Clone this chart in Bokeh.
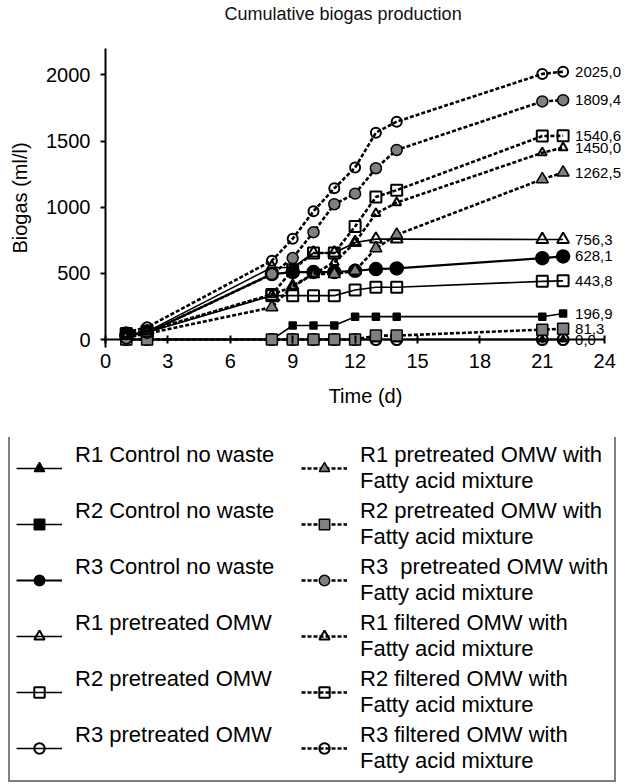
from bokeh.plotting import figure
from bokeh.layouts import column
from bokeh.models import (Range1d, Legend, LegendItem, LabelSet,
                          ColumnDataSource, FixedTicker)
from bokeh.core.properties import value
from bokeh.embed import file_html
from bokeh.resources import INLINE

# ---------------- data ----------------
days = [1, 2, 8, 9, 10, 11, 12, 13, 14, 21, 22]

r1_control = [0, 0, 0, 0, 0, 0, 0, 0, 0, 0, 0]
r2_control = [0, 0, 0, 106, 106, 106, 173, 173, 173, 173, 196.9]
r3_control = [30, 50, 495, 510, 510, 510, 520, 533, 538, 615, 628.1]
r1_pretreated = [30, 60, 545, 545, 654, 654, 734, 759, 759, 756.3, 756.3]
r2_pretreated = [40, 55, 332, 332, 332, 332, 375, 395, 395, 440, 443.8]
r3_pretreated = [0, 0, 0, 0, 0, 0, 0, 0, 0, 0, 0]
r1_pretreated_fa = [20, 45, 244, 407, 495, 495, 520, 689, 792, 1212, 1262.5]
r2_pretreated_fa = [0, 0, 0, 0, 0, 0, 0, 30, 30, 75, 81.3]
r3_pretreated_fa = [10, 50, 495, 616, 812, 1023, 1103, 1295, 1433, 1800, 1809.4]
r1_filtered_fa = [30, 60, 340, 400, 495, 583, 734, 953, 1035, 1412, 1450.0]
r2_filtered_fa = [45, 65, 340, 528, 654, 654, 855, 1078, 1129, 1538, 1540.6]
r3_filtered_fa = [55, 93, 596, 762, 970, 1143, 1300, 1564, 1647, 2008, 2025.0]

labels = [
    "R1 Control no waste",
    "R2 Control no waste",
    "R3 Control no waste",
    "R1 pretreated OMW",
    "R2 pretreated OMW",
    "R3 pretreated OMW",
    "R1 pretreated OMW with\nFatty acid mixture",
    "R2 pretreated OMW with\nFatty acid mixture",
    "R3  pretreated OMW with\nFatty acid mixture",
    "R1 filtered OMW with\nFatty acid mixture",
    "R2 filtered OMW with\nFatty acid mixture",
    "R3 filtered OMW with\nFatty acid mixture",
]
values = [r1_control, r2_control, r3_control, r1_pretreated, r2_pretreated,
          r3_pretreated, r1_pretreated_fa, r2_pretreated_fa, r3_pretreated_fa,
          r1_filtered_fa, r2_filtered_fa, r3_filtered_fa]

x_ticks = [0, 3, 6, 9, 12, 15, 18, 21, 24]
y_ticks = [0, 500, 1000, 1500, 2000]

# ---------------- styles ----------------
GREY = "#808080"
# marker, size, fill, dashed, line width
styles = [
    ("triangle", 8, "black", False, 1.6),
    ("square", 7, "black", False, 1.6),
    ("circle", 13, "black", False, 2.2),
    ("triangle", 12, None, False, 1.6),
    ("square", 11, None, False, 1.6),
    ("circle", 11, None, False, 1.6),
    ("triangle", 12, GREY, True, 2.6),
    ("square", 11, GREY, True, 2.6),
    ("circle", 11, GREY, True, 2.6),
    ("triangle", 9, None, True, 2.6),
    ("square", 11, None, True, 2.6),
    ("circle", 10, None, True, 2.6),
]

FONT = "Liberation Sans"


def draw(fig, src, style):
    marker, size, fill, dashed, lw = style
    ln = fig.line("x", "y", source=src, line_color="black", line_width=lw,
                  line_dash="4 2" if dashed else "solid")
    if fill is None:
        sc = fig.scatter("x", "y", source=src, marker=marker, size=size,
                         fill_alpha=0, line_color="black", line_width=2.0)
    else:
        sc = fig.scatter("x", "y", source=src, marker=marker, size=size,
                         fill_color=fill, line_color="black", line_width=1.5)
    return ln, sc


def no_frame_align(fig):
    if "frame_align" in fig.properties():
        fig.frame_align = False


# ---------------- chart ----------------
p = figure(width=625, height=437, output_backend="svg", toolbar_location=None,
           x_range=Range1d(0, 25.0), y_range=Range1d(-60, 2200),
           min_border_left=105, min_border_right=0,
           min_border_top=47, min_border_bottom=90)
no_frame_align(p)
p.outline_line_color = None
p.xgrid.grid_line_color = None
p.ygrid.grid_line_color = None

p.title.text = "Cumulative  biogas production\n"
p.title.text_font = FONT
p.title.text_font_size = "18px"
p.title.text_font_style = "normal"
p.title.text_color = "#111111"
p.title.align = "left"
p.title.offset = 119
p.title.vertical_align = "top"
p.title.standoff = 6

for ax in (p.xaxis[0], p.yaxis[0]):
    ax.major_label_text_font = FONT
    ax.major_label_text_font_size = "20px"
    ax.major_label_text_color = "black"
    ax.axis_label_text_font = FONT
    ax.axis_label_text_font_size = "20px"
    ax.axis_label_text_font_style = "normal"
    ax.axis_label_text_color = "black"
    ax.minor_tick_line_color = None
    ax.major_tick_line_color = "black"
    ax.major_tick_line_width = 2

p.xaxis.ticker = FixedTicker(ticks=x_ticks)
p.yaxis.ticker = FixedTicker(ticks=y_ticks)
p.xaxis.axis_label = "Time (d)"
p.yaxis.axis_label = "Biogas (ml/l)"
p.xaxis.axis_line_color = None
p.xaxis.major_tick_in = 12
p.xaxis.major_tick_out = -4
p.xaxis.major_label_standoff = 6
p.xaxis.axis_label_standoff = 14
p.yaxis.axis_line_color = "black"
p.yaxis.axis_line_width = 2
p.yaxis.major_tick_in = 0
p.yaxis.major_tick_out = 5
p.yaxis.major_label_standoff = 10
p.yaxis.axis_label_standoff = 12

# x axis base line at y = 0, from first to last tick
p.segment(x0=[x_ticks[0]], y0=[y_ticks[0]], x1=[x_ticks[-1]], y1=[y_ticks[0]],
          line_color="black", line_width=2)

for vals, style in zip(values, styles):
    draw(p, ColumnDataSource(dict(x=days, y=vals)), style)

# end labels
end_vals = [v[-1] for v in values]
uniq = sorted(set(end_vals), reverse=True)
end_src = ColumnDataSource(dict(
    x=[days[-1]] * len(uniq), y=uniq,
    text=[f"{u:.1f}".replace(".", ",") for u in uniq]))
p.add_layout(LabelSet(x="x", y="y", text="text", source=end_src,
                      x_offset=12, text_baseline="middle",
                      text_font=value(FONT), text_font_size="15px",
                      text_color="black"))

# ---------------- legend panel ----------------
# same series, drawn into a view range that holds none of them, so that only
# the legend's samples of them show
q = figure(width=625, height=347, output_backend="svg", toolbar_location=None,
           x_range=Range1d(-3, -2), y_range=Range1d(-3, -2),
           x_axis_location=None, y_axis_location=None,
           min_border_left=0, min_border_right=0,
           min_border_top=0, min_border_bottom=0)
no_frame_align(q)
q.outline_line_color = None
q.xgrid.grid_line_color = None
q.ygrid.grid_line_color = None

items = []
for lab, vals, style in zip(labels, values, styles):
    ln, sc = draw(q, ColumnDataSource(dict(x=days, y=vals)), style)
    text = lab if "\n" in lab else lab + "\n "
    items.append(LegendItem(label=text, renderers=[ln, sc]))

legend = Legend(items=items, location=(8, 2), nrows=6,
                orientation="vertical",
                label_text_font=FONT, label_text_font_size="22px",
                label_text_color="black",
                glyph_width=46, glyph_height=26, label_standoff=13,
                label_width=222, padding=6, spacing=4,
                border_line_color="black", border_line_width=2,
                background_fill_color="white", background_fill_alpha=1)
q.add_layout(legend)

layout = column(p, q, spacing=0)
open("out.html", "w").write(file_html(layout, INLINE))
